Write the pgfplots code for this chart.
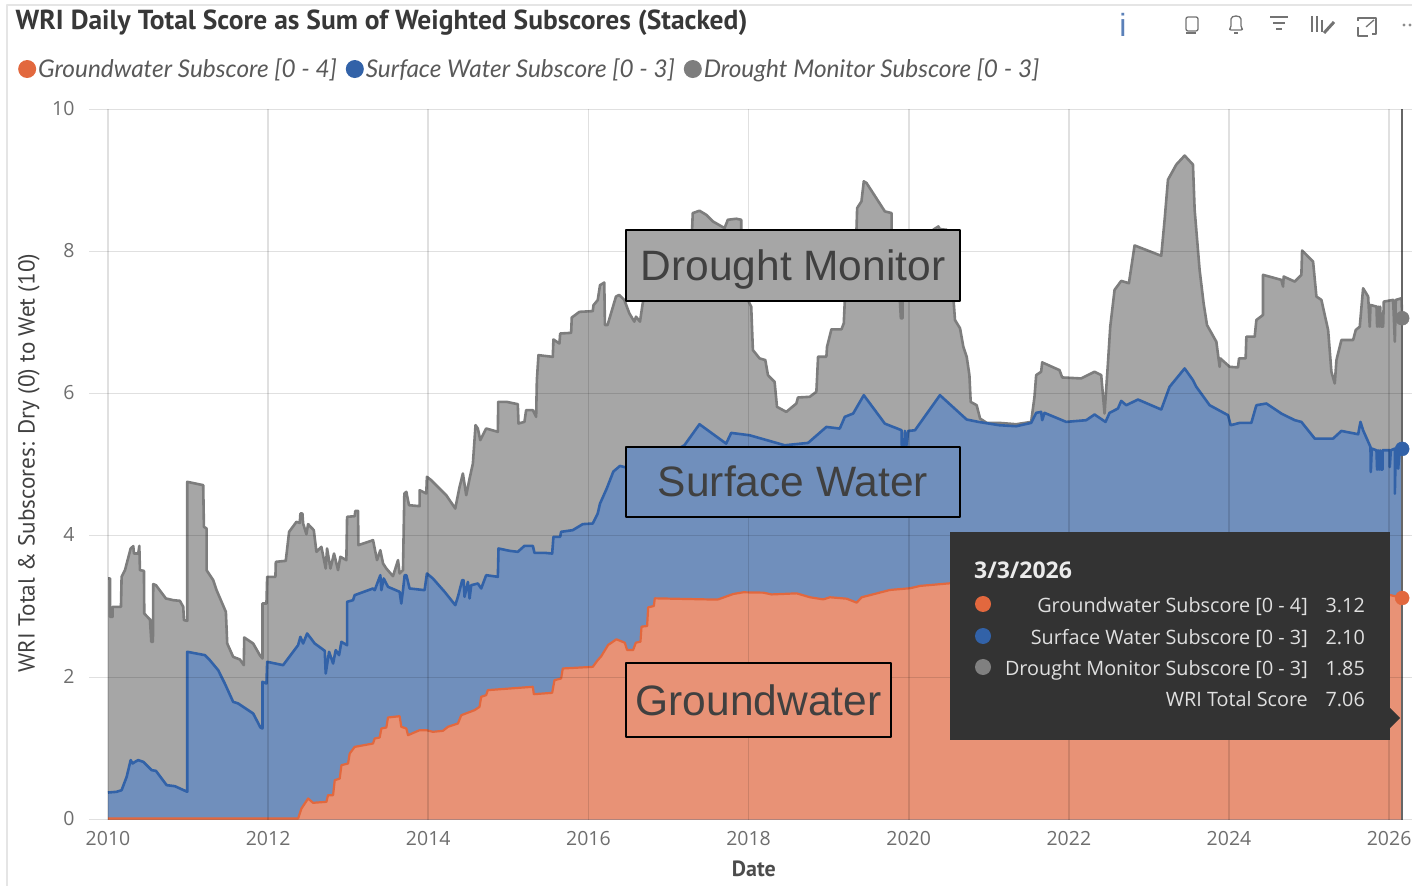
\documentclass[border=0pt]{standalone}
\usepackage{fontspec}
\usepackage{pgfplots}
\usepackage{pgfplotstable}
\pgfplotsset{compat=1.18}
\setmainfont{Open Sans}
\newfontfamily\din{PT Sans}
\newfontfamily\leg{Lato}
\newfontfamily\arial{Liberation Sans}
\definecolor{gfill}{RGB}{166,166,166}
\definecolor{gline}{RGB}{125,125,125}
\definecolor{bfill}{RGB}{112,143,188}
\definecolor{bline}{RGB}{50,98,168}
\definecolor{ofill}{RGB}{232,146,118}
\definecolor{oline}{RGB}{226,104,62}
\definecolor{tip}{RGB}{51,51,51}
\definecolor{ticktxt}{RGB}{110,110,110}
\pgfplotstableread[row sep=\\]{
x y\\
2010.00 3.394\\ 2010.025 3.394\\ 2010.025 2.854\\ 2010.058 2.854\\ 2010.058 2.995\\ 2010.162 2.995\\ 2010.17 3.418\\ 2010.212 3.512\\
2010.283 3.817\\ 2010.316 3.85\\ 2010.324 3.746\\ 2010.378 3.746\\ 2010.391 3.854\\ 2010.399 3.512\\ 2010.449 3.502\\ 2010.453 2.901\\
2010.524 2.817\\ 2010.541 2.502\\ 2010.561 2.502\\ 2010.565 3.315\\ 2010.599 3.30\\ 2010.723 3.113\\ 2010.815 3.089\\ 2010.898 3.08\\
2010.94 2.995\\ 2010.948 2.808\\ 2010.99 2.798\\ 2010.99 4.756\\ 2011.189 4.709\\ 2011.198 4.122\\ 2011.231 4.099\\ 2011.231 3.512\\
2011.314 3.371\\ 2011.356 3.23\\ 2011.472 2.925\\ 2011.489 2.479\\ 2011.563 2.291\\ 2011.647 2.254\\ 2011.696 2.174\\ 2011.701 2.563\\
2011.813 2.479\\ 2011.896 2.315\\ 2011.929 2.268\\ 2011.929 3.042\\ 2011.979 3.042\\ 2011.988 3.418\\ 2012.091 3.418\\ 2012.096 3.629\\
2012.22 3.643\\ 2012.262 4.052\\ 2012.353 4.192\\ 2012.395 4.178\\ 2012.403 4.31\\ 2012.428 4.31\\ 2012.437 4.169\\ 2012.478 4.019\\
2012.499 4.16\\ 2012.57 4.075\\ 2012.603 3.77\\ 2012.665 3.84\\ 2012.719 3.535\\ 2012.736 3.817\\ 2012.778 3.535\\ 2012.823 3.746\\
2012.873 3.512\\ 2012.902 3.70\\ 2012.977 3.653\\ 2012.986 4.263\\ 2013.081 4.272\\ 2013.089 4.347\\ 2013.123 4.347\\ 2013.127 3.864\\
2013.31 3.934\\ 2013.36 3.653\\ 2013.401 3.793\\ 2013.435 3.606\\ 2013.476 3.535\\ 2013.559 3.427\\ 2013.622 3.653\\ 2013.642 3.465\\
2013.684 3.512\\ 2013.701 4.592\\ 2013.726 4.615\\ 2013.759 4.427\\ 2013.892 4.413\\ 2013.892 4.638\\ 2013.975 4.592\\ 2013.983 4.826\\
2014.037 4.779\\ 2014.224 4.568\\ 2014.337 4.38\\ 2014.391 4.685\\ 2014.432 4.873\\ 2014.474 4.568\\ 2014.516 4.803\\ 2014.557 5.014\\
2014.59 5.554\\ 2014.619 5.507\\ 2014.649 5.343\\ 2014.723 5.507\\ 2014.869 5.46\\ 2014.873 5.883\\ 2014.973 5.883\\ 2015.118 5.85\\
2015.127 5.577\\ 2015.201 5.601\\ 2015.222 5.765\\ 2015.306 5.765\\ 2015.347 5.671\\ 2015.356 6.188\\ 2015.376 6.54\\ 2015.555 6.516\\
2015.563 6.761\\ 2015.638 6.704\\ 2015.647 6.845\\ 2015.784 6.854\\ 2015.792 7.07\\ 2015.888 7.15\\ 2016.054 7.16\\ 2016.063 7.244\\
2016.116 7.315\\ 2016.145 7.526\\ 2016.198 7.562\\ 2016.206 6.965\\ 2016.239 6.965\\ 2016.344 7.365\\ 2016.385 7.388\\ 2016.448 7.318\\
2016.511 7.129\\ 2016.573 7.012\\ 2016.594 7.082\\ 2016.644 7.012\\ 2016.678 7.271\\ 2016.698 7.365\\ 2016.97 7.74\\ 2017.295 8.315\\
2017.303 8.541\\ 2017.387 8.574\\ 2017.47 8.518\\ 2017.554 8.424\\ 2017.7 8.329\\ 2017.741 8.447\\ 2017.846 8.461\\ 2017.908 8.447\\
2017.908 8.315\\ 2017.97 7.365\\ 2018.033 7.224\\ 2018.054 6.612\\ 2018.138 6.494\\ 2018.209 6.471\\ 2018.242 6.259\\ 2018.325 6.165\\
2018.355 5.812\\ 2018.471 5.741\\ 2018.597 5.859\\ 2018.617 5.944\\ 2018.763 5.953\\ 2018.847 6.024\\ 2018.868 6.518\\ 2018.972 6.518\\
2018.98 6.659\\ 2019.035 6.904\\ 2019.16 6.904\\ 2019.189 6.988\\ 2019.202 7.308\\ 2019.348 8.315\\ 2019.356 8.612\\ 2019.41 8.706\\
2019.439 8.988\\ 2019.473 8.965\\ 2019.702 8.565\\ 2019.786 8.541\\ 2019.786 8.315\\ 2019.89 7.308\\ 2019.902 7.059\\ 2019.923 7.059\\
2019.923 7.308\\ 2019.952 7.835\\ 2020.307 8.306\\ 2020.37 8.353\\ 2020.39 8.315\\ 2020.474 8.306\\ 2020.557 7.365\\ 2020.578 7.035\\
2020.641 6.918\\ 2020.682 6.659\\ 2020.724 6.518\\ 2020.758 6.259\\ 2020.774 5.882\\ 2020.849 5.835\\ 2020.891 5.647\\ 2020.975 5.586\\
2021.133 5.586\\ 2021.342 5.567\\ 2021.529 5.6\\ 2021.571 5.953\\ 2021.592 6.259\\ 2021.654 6.306\\ 2021.667 6.438\\ 2021.883 6.329\\
2021.917 6.226\\ 2022.154 6.212\\ 2022.321 6.306\\ 2022.404 6.259\\ 2022.446 5.718\\ 2022.488 6.424\\ 2022.517 6.941\\ 2022.571 7.459\\
2022.654 7.586\\ 2022.75 7.553\\ 2022.821 8.085\\ 2023.154 7.939\\ 2023.196 8.447\\ 2023.238 9.012\\ 2023.342 9.224\\ 2023.446 9.351\\
2023.55 9.224\\ 2023.571 8.588\\ 2023.633 7.741\\ 2023.683 7.271\\ 2023.725 6.965\\ 2023.842 6.729\\ 2023.883 6.376\\ 2023.892 6.494\\
2024.008 6.376\\ 2024.113 6.367\\ 2024.125 6.494\\ 2024.208 6.494\\ 2024.217 6.8\\ 2024.321 6.8\\ 2024.342 7.035\\ 2024.425 7.106\\
2024.425 7.671\\ 2024.654 7.6\\ 2024.675 7.506\\ 2024.683 7.647\\ 2024.821 7.576\\ 2024.904 7.671\\ 2024.913 8.014\\ 2025.05 7.859\\
2025.092 7.365\\ 2025.154 7.318\\ 2025.238 6.894\\ 2025.279 6.306\\ 2025.321 6.141\\ 2025.342 6.471\\ 2025.404 6.753\\ 2025.55 6.753\\
2025.583 6.894\\ 2025.633 6.941\\ 2025.675 7.482\\ 2025.738 7.365\\ 2025.758 6.941\\ 2025.767 7.247\\ 2025.842 7.224\\ 2025.85 6.941\\
2025.863 7.224\\ 2025.875 6.941\\ 2025.888 7.224\\ 2025.9 6.941\\ 2025.925 6.941\\ 2025.933 7.294\\ 2026.05 7.318\\ 2026.071 6.729\\
2026.083 7.318\\ 2026.154 7.341\\ 2026.163 7.06\\
}\totalscore
\pgfplotstableread[row sep=\\]{
x y\\
2010.00 0.38\\ 2010.108 0.39\\ 2010.17 0.413\\ 2010.233 0.601\\ 2010.283 0.836\\ 2010.308 0.789\\ 2010.337 0.812\\ 2010.378 0.836\\
2010.441 0.812\\ 2010.545 0.695\\ 2010.599 0.685\\ 2010.732 0.484\\ 2010.836 0.469\\ 2010.99 0.39\\ 2010.99 2.362\\ 2011.21 2.315\\
2011.272 2.244\\ 2011.376 2.103\\ 2011.459 1.915\\ 2011.563 1.657\\ 2011.626 1.634\\ 2011.813 1.493\\ 2011.904 1.296\\ 2011.929 1.282\\
2011.929 1.939\\ 2011.979 1.915\\ 2011.988 2.221\\ 2012.187 2.174\\ 2012.374 2.455\\ 2012.403 2.573\\ 2012.437 2.479\\ 2012.487 2.62\\
2012.582 2.479\\ 2012.707 2.376\\ 2012.719 2.056\\ 2012.761 2.362\\ 2012.811 2.197\\ 2012.844 2.385\\ 2012.886 2.315\\ 2012.915 2.502\\
2012.986 2.455\\ 2012.986 3.066\\ 2013.06 3.089\\ 2013.081 3.16\\ 2013.31 3.254\\ 2013.331 3.23\\ 2013.401 3.441\\ 2013.414 3.23\\
2013.443 3.394\\ 2013.497 3.277\\ 2013.642 3.207\\ 2013.663 3.042\\ 2013.684 3.23\\ 2013.705 3.441\\ 2013.726 3.441\\ 2013.767 3.254\\
2013.954 3.23\\ 2013.983 3.465\\ 2014.058 3.394\\ 2014.204 3.207\\ 2014.337 3.019\\ 2014.37 3.136\\ 2014.424 3.371\\ 2014.441 3.371\\
2014.453 3.136\\ 2014.495 3.347\\ 2014.516 3.113\\ 2014.536 3.3\\ 2014.619 3.324\\ 2014.661 3.254\\ 2014.723 3.441\\ 2014.869 3.418\\
2014.877 3.817\\ 2015.015 3.784\\ 2015.118 3.77\\ 2015.201 3.854\\ 2015.306 3.854\\ 2015.326 3.756\\ 2015.451 3.756\\ 2015.547 3.746\\
2015.563 3.981\\ 2015.647 3.981\\ 2015.659 4.052\\ 2015.804 4.075\\ 2015.929 4.16\\ 2016.054 4.169\\ 2016.116 4.31\\ 2016.145 4.45\\
2016.228 4.66\\ 2016.311 4.90\\ 2016.394 4.98\\ 2016.5 4.95\\ 2016.85 5.05\\ 2017.199 5.271\\ 2017.387 5.567\\ 2017.72 5.294\\
2017.783 5.445\\ 2018.013 5.412\\ 2018.451 5.271\\ 2018.743 5.304\\ 2018.972 5.529\\ 2019.139 5.506\\ 2019.202 5.671\\ 2019.306 5.718\\
2019.439 5.976\\ 2019.702 5.576\\ 2019.911 5.482\\ 2019.911 5.271\\ 2019.944 5.271\\ 2019.952 5.473\\ 2019.973 5.271\\ 2019.994 5.473\\
2020.078 5.482\\ 2020.39 5.976\\ 2020.724 5.633\\ 2020.87 5.6\\ 2021.133 5.553\\ 2021.342 5.539\\ 2021.529 5.586\\ 2021.592 5.727\\
2021.654 5.741\\ 2021.667 5.624\\ 2021.696 5.727\\ 2021.967 5.6\\ 2022.217 5.624\\ 2022.321 5.704\\ 2022.458 5.6\\ 2022.508 5.727\\
2022.613 5.788\\ 2022.654 5.896\\ 2022.717 5.835\\ 2022.863 5.915\\ 2023.154 5.774\\ 2023.258 6.094\\ 2023.446 6.353\\ 2023.55 6.188\\
2023.592 6.094\\ 2023.758 5.835\\ 2023.988 5.694\\ 2024.021 5.553\\ 2024.133 5.586\\ 2024.279 5.586\\ 2024.342 5.835\\ 2024.467 5.859\\
2024.654 5.718\\ 2024.821 5.624\\ 2024.904 5.6\\ 2025.071 5.365\\ 2025.3 5.365\\ 2025.404 5.473\\ 2025.613 5.426\\ 2025.642 5.6\\
2025.675 5.482\\ 2025.767 5.247\\ 2025.771 4.894\\ 2025.783 5.224\\ 2025.842 5.2\\ 2025.85 4.927\\ 2025.863 5.2\\ 2025.875 4.927\\
2025.888 5.2\\ 2025.9 4.927\\ 2025.917 4.927\\ 2025.917 5.2\\ 2026.008 5.2\\ 2026.008 4.965\\ 2026.021 5.2\\ 2026.071 5.224\\
2026.071 4.588\\ 2026.083 5.224\\ 2026.113 4.941\\ 2026.133 5.224\\ 2026.163 5.22\\
}\surfacetop
\pgfplotstableread[row sep=\\]{
x y\\
2010.00 0.014\\ 2012.374 0.014\\ 2012.416 0.155\\ 2012.499 0.296\\ 2012.561 0.235\\ 2012.728 0.249\\ 2012.748 0.343\\ 2012.811 0.343\\
2012.832 0.554\\ 2012.894 0.577\\ 2012.915 0.765\\ 2012.998 0.789\\ 2013.019 0.93\\ 2013.081 1.023\\ 2013.31 1.07\\ 2013.331 1.141\\
2013.393 1.155\\ 2013.414 1.282\\ 2013.476 1.296\\ 2013.497 1.437\\ 2013.642 1.455\\ 2013.663 1.305\\ 2013.726 1.282\\ 2013.747 1.188\\
2013.892 1.258\\ 2013.975 1.258\\ 2014.058 1.235\\ 2014.183 1.249\\ 2014.245 1.305\\ 2014.37 1.352\\ 2014.412 1.469\\ 2014.578 1.54\\
2014.64 1.587\\ 2014.661 1.728\\ 2014.723 1.751\\ 2014.744 1.822\\ 2015.306 1.869\\ 2015.318 1.765\\ 2015.547 1.784\\ 2015.576 1.962\\
2015.659 1.986\\ 2015.68 2.127\\ 2016.054 2.15\\ 2016.116 2.244\\ 2016.16 2.30\\ 2016.246 2.458\\ 2016.35 2.538\\ 2016.454 2.49\\
2016.483 2.387\\ 2016.558 2.387\\ 2016.592 2.49\\ 2016.65 2.505\\ 2016.663 2.716\\ 2016.733 2.725\\ 2016.746 2.988\\ 2016.817 3.007\\
2016.829 3.115\\ 2017.475 3.10\\ 2017.621 3.10\\ 2017.808 3.176\\ 2017.933 3.2\\ 2018.183 3.195\\ 2018.288 3.17\\ 2018.6 3.185\\
2018.767 3.13\\ 2018.933 3.10\\ 2019.017 3.13\\ 2019.225 3.11\\ 2019.35 3.054\\ 2019.413 3.13\\ 2019.767 3.233\\ 2020.017 3.257\\
2020.142 3.29\\ 2020.517 3.327\\ 2021 3.37\\ 2022 3.40\\ 2024 3.35\\ 2025 3.30\\ 2026.01 3.162\\ 2026.163 3.12\\
}\groundtop
\begin{document}
\begin{tikzpicture}[line join=round]
\useasboundingbox (0,0) rectangle (1412pt,886pt);
\begin{axis}[
  at={(89pt,66.5pt)}, anchor=south west,
  scale only axis, width=1323pt, height=710pt,
  xmin=2009.7627, xmax=2026.2857, ymin=0, ymax=10,
  axis on top, axis line style={draw=none}, tick style={draw=none},
  xtick={2010,2012,...,2026}, ytick={0,2,...,10},
  grid=major, grid style={black, opacity=0.12, line width=1.8pt},
  /pgf/number format/1000 sep={}, /pgf/number format/assume math mode=true,
  tick label style={font=\fontsize{19.5}{21}\selectfont, text=ticktxt},
  yticklabel style={xshift=-11pt, yshift=1pt},
  xticklabel style={yshift=-8pt},
  xlabel={Date}, ylabel={WRI Total \& Subscores: Dry (0) to Wet (10)},
  every axis x label/.style={at={(rel axis cs:0.5026,-0.0697)}, anchor=center, font=\din\bfseries\fontsize{22}{24}\selectfont, text=black!70},
  every axis y label/.style={at={(rel axis cs:-0.0454,0.502)}, anchor=center, rotate=90, font=\din\fontsize{23.2}{26}\selectfont, text=black!75},
  legend columns=3,
  legend style={at={(rel axis cs:-0.0537,1.057)}, anchor=west, draw=none, fill=none,
    font=\leg\itshape\fontsize{24.4}{27}\selectfont, text=black!65,
    inner xsep=0pt, inner ysep=0pt,
    /tikz/every even column/.append style={column sep=7pt}},
  legend cell align=left,
  legend image code/.code={\path[#1] (0.1cm,0) circle (9pt);},
]
\addlegendimage{fill=oline, draw=none}
\addlegendentry{Groundwater Subscore [0 - 4]}
\addlegendimage{fill=bline, draw=none}
\addlegendentry{Surface Water Subscore [0 - 3]}
\addlegendimage{fill=gline, draw=none}
\addlegendentry{Drought Monitor Subscore [0 - 3]}
\addplot[forget plot, draw=none, fill=gfill] table {\totalscore} \closedcycle;
\addplot[forget plot, draw=gline, line width=2.6pt] table {\totalscore};
\addplot[forget plot, draw=none, fill=bfill] table {\surfacetop} \closedcycle;
\addplot[forget plot, draw=bline, line width=2.6pt] table {\surfacetop};
\addplot[forget plot, draw=none, fill=ofill] table {\groundtop} \closedcycle;
\addplot[forget plot, draw=oline, line width=2.2pt] table {\groundtop};
\addplot[forget plot, draw=black!60, line width=1.6pt] coordinates {(2026.163,0) (2026.163,10)};
\addplot[forget plot, only marks, mark=*, mark size=7pt, color=gline] coordinates {(2026.163,7.06)};
\addplot[forget plot, only marks, mark=*, mark size=7pt, color=bline] coordinates {(2026.163,5.22)};
\addplot[forget plot, only marks, mark=*, mark size=7pt, color=oline] coordinates {(2026.163,3.12)};
\end{axis}
\begin{scope}[shift={(0,886pt)}, x=1pt, y=-1pt]
  % frame of the visual
  \draw[black!10, line width=1.5pt] (7,886) -- (7,5) -- (1412,5);
  % title
  \node[anchor=west, inner sep=0pt, font=\din\bfseries\fontsize{27.5}{30}\selectfont, text=black!78] at (15.5,23) {WRI Daily Total Score as Sum of Weighted Subscores (Stacked)};
  % icons
  \node[font=\arial\fontsize{32}{32}\selectfont, text=bline!80] at (1123,25) {i};
  \begin{scope}[draw=black!55, line width=1.3pt]
    \draw[rounded corners=2pt] (1186,17) rectangle (1198,31);
    \draw (1186,33) -- (1196,33);
    \draw[rounded corners=2pt] (1229,30) -- (1231,28) -- (1231,21) .. controls (1231,15) and (1241,15) .. (1241,21) -- (1241,28) -- (1243,30) -- cycle;
    \draw (1234,33) -- (1238,33);
    \draw (1270,17) -- (1288,17) (1273,23) -- (1285,23) (1276,29) -- (1282,29);
    \draw (1312,16) -- (1312,32) (1317,16) -- (1317,32) (1322,20) -- (1322,32);
    \draw[line width=3pt] (1324,33) -- (1334,22);
    \draw (1358,27) -- (1358,36) -- (1368,36) (1358,21) -- (1358,18) -- (1376,18) -- (1376,34) -- (1372,34);
    \draw (1366,27) -- (1374,20);
  \end{scope}
  \fill[black!45] (1404,25) circle (1.6) (1410,25) circle (1.6);
  % annotation boxes
  \begin{scope}[every node/.style={draw=black, line width=2pt, inner sep=0pt, text height=36pt, text depth=6pt, font=\arial\fontsize{42.5}{46}\selectfont, text=black!75}]
  \node[fill=gfill, minimum width=334pt, minimum height=71pt] at (793,266) {Drought Monitor};
  \node[fill=bfill, minimum width=334pt, minimum height=70pt] at (793,482) {Surface Water};
  \node[fill=ofill, minimum width=265pt, minimum height=74pt] at (758.5,700) {Groundwater};
  \end{scope}
  % tooltip
  \fill[tip] (950,532) rectangle (1390,740);
  \fill[tip] (1390,708) -- (1400,718) -- (1390,728) -- cycle;
  \node[anchor=base west, inner sep=0pt, font=\bfseries\fontsize{23}{25}\selectfont, text=white!92!black] at (974,579) {3/3/2026};
  \fill[oline] (983,604) circle (8);
  \fill[bline] (983,636) circle (8);
  \fill[black!50] (983,667) circle (8);
  \begin{scope}[every node/.style={inner sep=0pt, font=\fontsize{19.8}{22}\selectfont, text=white!88!black}]
    \node[anchor=base east] at (1308,613) {Groundwater Subscore [0 - 4]};
    \node[anchor=base east] at (1365,613) {3.12};
    \node[anchor=base east] at (1308,644.5) {Surface Water Subscore [0 - 3]};
    \node[anchor=base east] at (1365,644.5) {2.10};
    \node[anchor=base east] at (1308,675.5) {Drought Monitor Subscore [0 - 3]};
    \node[anchor=base east] at (1365,675.5) {1.85};
    \node[anchor=base east] at (1308,707) {WRI Total Score};
    \node[anchor=base east] at (1365,707) {7.06};
  \end{scope}
\end{scope}
\end{tikzpicture}
\end{document}
